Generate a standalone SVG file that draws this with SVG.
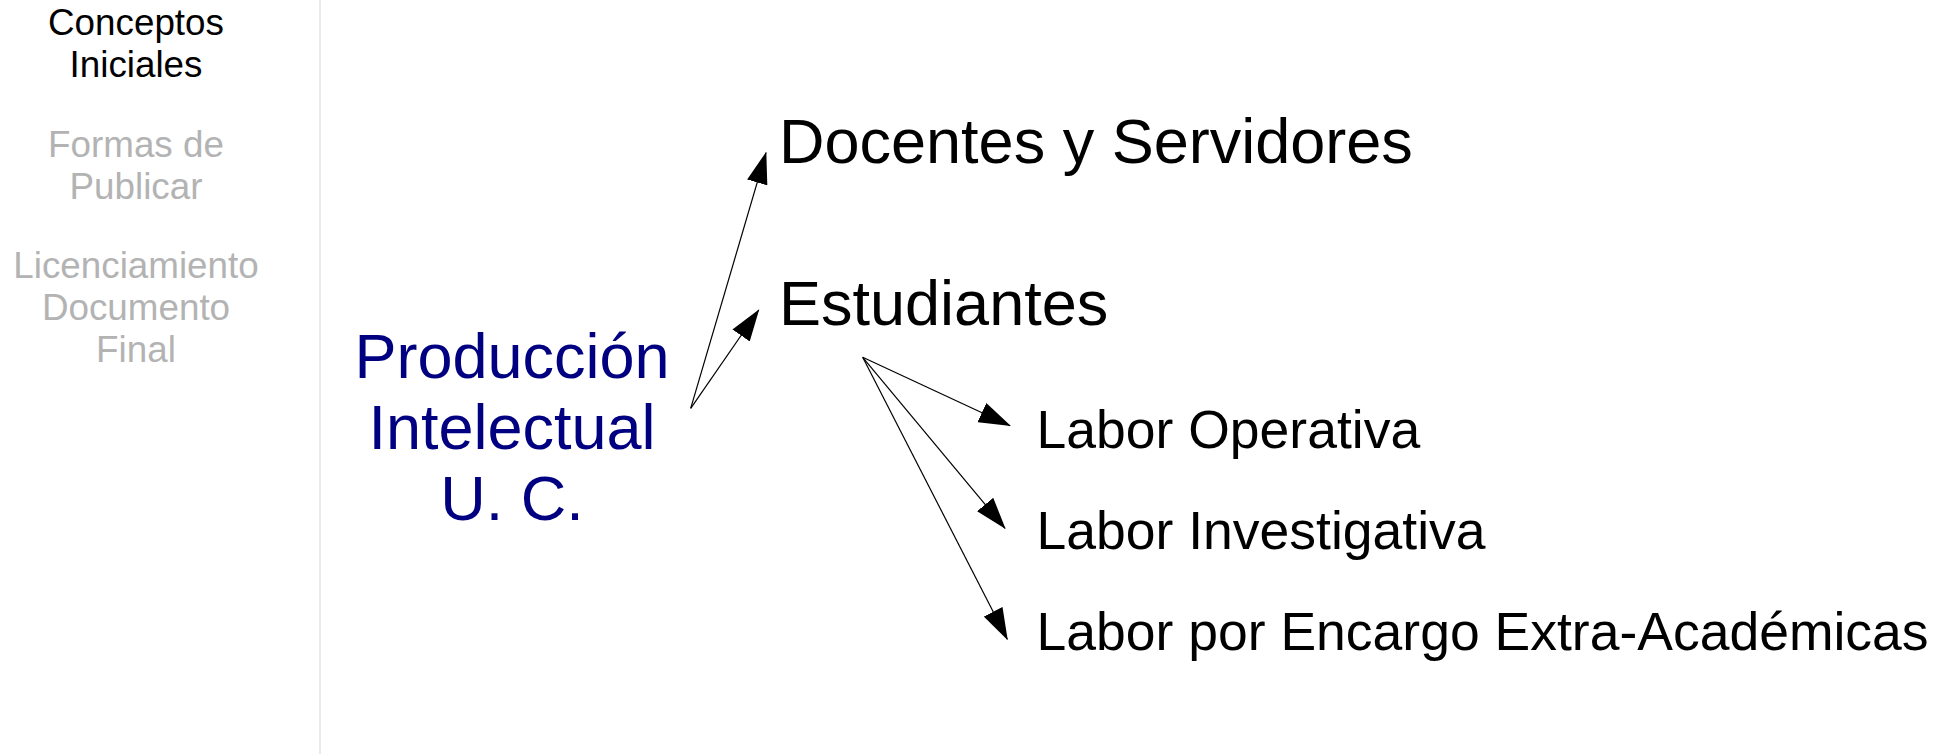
<svg xmlns="http://www.w3.org/2000/svg" width="1950" height="754" viewBox="0 0 1950 754">
<style>
text{font-family:"Liberation Sans",Arial,sans-serif}
.nav{font-size:36.8px;text-anchor:middle}
.on{fill:#000000}
.off{fill:#b3b3b3}
.main{font-size:63px;fill:#000080;text-anchor:middle}
.big{font-size:63px;fill:#000000}
.mid{font-size:53.5px;fill:#000000}
.conn line{stroke:#000000;stroke-width:1.2;fill:none;marker-end:url(#ah)}
</style>
<defs>
<marker id="ah" viewBox="0 0 32 21" refX="31" refY="10.5" markerWidth="32" markerHeight="21" markerUnits="userSpaceOnUse" orient="auto">
<path d="M0,0 L32,10.5 L0,21 Z" fill="#000000"/>
</marker>
</defs>
<rect width="1950" height="754" fill="#ffffff"/>
<g id="sidebar">
<line x1="320" y1="0" x2="320" y2="754" stroke="#e3e3e3" stroke-width="1.5"/>
<g id="nav-conceptos"><text class="nav on" x="136" y="35">Conceptos</text><text class="nav on" x="136" y="77">Iniciales</text></g>
<g id="nav-formas"><text class="nav off" x="136" y="157">Formas de</text><text class="nav off" x="136" y="199">Publicar</text></g>
<g id="nav-licenciamiento"><text class="nav off" x="136" y="278">Licenciamiento</text><text class="nav off" x="136" y="320">Documento</text><text class="nav off" x="136" y="362">Final</text></g>
</g>
<g id="produccion"><text class="main" x="512" y="378">Producción</text><text class="main" x="512" y="449">Intelectual</text><text class="main" x="512" y="520">U. C.</text></g>
<g id="docentes"><text class="big" x="779" y="163">Docentes y Servidores</text></g>
<g id="estudiantes"><text class="big" x="779" y="325">Estudiantes</text></g>
<g id="operativa"><text class="mid" x="1036.5" y="448">Labor Operativa</text></g>
<g id="investigativa"><text class="mid" x="1036.5" y="549">Labor Investigativa</text></g>
<g id="encargo"><text class="mid" x="1036.5" y="650">Labor por Encargo Extra-Académicas</text></g>
<g id="connectors" class="conn">
<line x1="690.7" y1="408.3" x2="766" y2="152.7"/>
<line x1="690.7" y1="408.3" x2="758.7" y2="310"/>
<line x1="862.7" y1="357.3" x2="1010" y2="425.7"/>
<line x1="862.7" y1="357.3" x2="1005" y2="528.3"/>
<line x1="862.7" y1="357.3" x2="1007.3" y2="639.3"/>
</g>
</svg>
